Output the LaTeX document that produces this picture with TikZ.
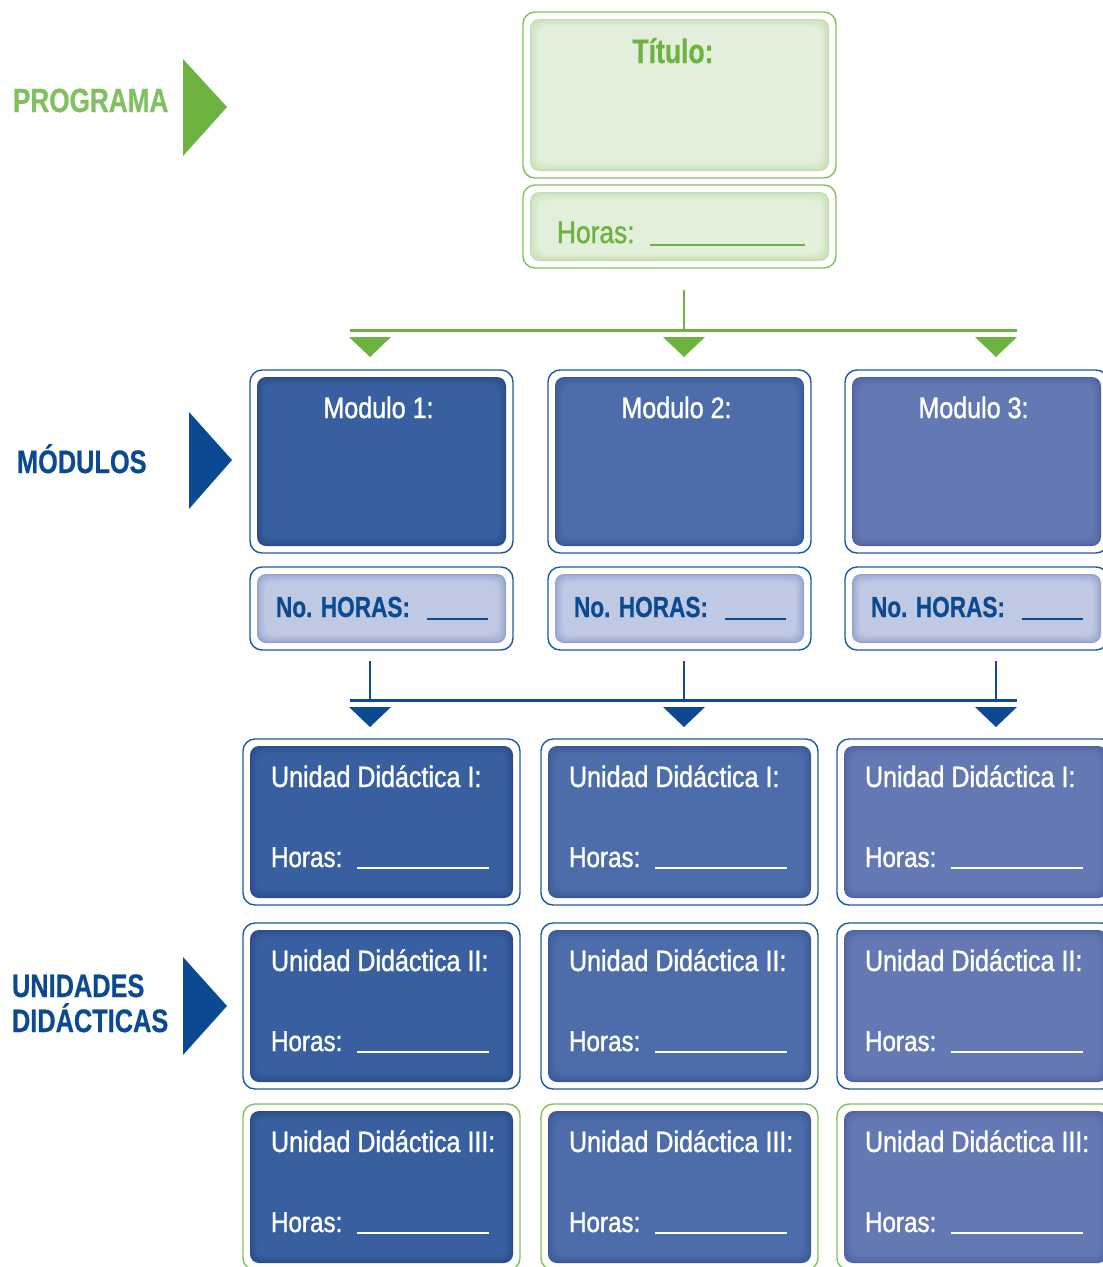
\documentclass[tikz,border=0pt]{standalone}
\usepackage{fontspec}
\setmainfont{Liberation Sans}[FakeStretch=0.85, FakeBold=1.2]
\newfontfamily\bcond{Liberation Sans}[FakeStretch=0.78, FakeBold=0.6]
\usetikzlibrary{calc}

\definecolor{grnline}{HTML}{7DC35B}
\definecolor{grnfill}{HTML}{E2EFDA}
\definecolor{grnedge}{HTML}{C3DFB0}
\definecolor{grntext}{HTML}{6DB33F}
\definecolor{grnlabel}{HTML}{80C060}
\definecolor{grntri}{HTML}{6CB33F}
\definecolor{navy}{HTML}{0B4A93}
\definecolor{navyline}{HTML}{1B5BA0}
\definecolor{colAc}{HTML}{3860A0}
\definecolor{colAe}{HTML}{2A4C88}
\definecolor{colBc}{HTML}{4C6DAA}
\definecolor{colBe}{HTML}{3A5994}
\definecolor{colCc}{HTML}{6479B3}
\definecolor{colCe}{HTML}{4E63A0}
\definecolor{hrsc}{HTML}{C0C9E3}
\definecolor{hrse}{HTML}{93A2CC}

% soft inner shading of a rounded panel, inset 7pt inside a framed node
\newcommand{\innerglow}[3]{%
  \foreach \k in {0,...,10}{%
    \pgfmathsetmacro{\ins}{7+\k*0.8}%
    \pgfmathtruncatemacro{\mixp}{100*(\k/10)^0.7}%
    \fill[#3!\mixp!#2, rounded corners=9pt]
      ($(#1.north west)+(\ins,\ins)$) rectangle ($(#1.south east)+(-\ins,-\ins)$);
  }%
}
\newcommand{\fs}[1]{\fontsize{#1}{#1}\selectfont}

\begin{document}
\begin{tikzpicture}[x=1pt,y=-1pt,
  frame/.style={draw, rounded corners=12pt, line width=1.4pt, fill=white,
    inner sep=0pt, outer sep=0pt},
  txt/.style={inner sep=0pt, outer sep=0pt, anchor=base west},
  ctxt/.style={inner sep=0pt, outer sep=0pt, anchor=base},
  gconn/.style={draw=grntri},
  bconn/.style={draw=navy},
  blank/.style={line width=2pt}]
\useasboundingbox (0,0) rectangle (1103,1267);
\clip (0,0) rectangle (1103,1267);

% ---------- section labels ----------
\node[txt, text=grnlabel] (lprog) at (13,112) {\bcond\bfseries\fs{33.5}PROGRAMA};
\fill[grntri] (183,59) -- (227,107) -- (183,156) -- cycle;
\node[txt, text=navy] (lmod) at (17,473) {\bcond\bfseries\fs{32.5}MÓDULOS};
\fill[navy] (189,412) -- (232,460) -- (189,509) -- cycle;
\node[txt, text=navy] (lud1) at (12,997) {\bcond\bfseries\fs{32.5}UNIDADES};
\node[txt, text=navy] (lud2) at (12,1032) {\bcond\bfseries\fs{32.5}DIDÁCTICAS};
\fill[navy] (183,957) -- (227,1006) -- (183,1055) -- cycle;

% ---------- programme ----------
\node[frame, draw=grnline, minimum width=313pt, minimum height=166pt] (titulo) at (679.5,95) {};
\innerglow{titulo}{grnedge}{grnfill}
\node[ctxt, text=grntext] (ttitulo) at ($(titulo.north)+(-6.5,51)$) {\bcond\bfseries\fs{34}Título:};
\node[frame, draw=grnline, minimum width=313pt, minimum height=83pt] (phoras) at (679.5,226.5) {};
\innerglow{phoras}{grnedge}{grnfill}
\node[txt, text=grntext] (tphoras) at ($(phoras.north west)+(34,58)$) {\fs{31}Horas:};
\draw[grntext, blank] ($(phoras.north west)+(127,60)$) -- ++(155,0);

% green connector
\coordinate (gtop) at ($(phoras.south)+(4.5,22)$);
\coordinate (gmid) at (684,330);
\coordinate (gl) at (350,330);
\coordinate (gr) at (1017,330);
\draw[gconn, line width=2pt] (gtop) -- (gmid);
\draw[gconn, line width=3pt] (gl) -- (gr);
\foreach \x [count=\i] in {370,684,996}{
  \coordinate (gtip\i) at (\x,357);
  \fill[grntri] ($(gtip\i)+(-21,-20)$) -- ($(gtip\i)+(21,-20)$) -- (gtip\i) -- cycle;
}

% ---------- modules ----------
\foreach \lx/\cc/\ce [count=\i] in {250/colAc/colAe, 548/colBc/colBe, 845/colCc/colCe}{
  \node[frame, draw=navyline, minimum width=263pt, minimum height=183pt] (mod\i) at (\lx+131.5,461.5) {};
  \innerglow{mod\i}{\ce}{\cc}
  \node[ctxt, text=white] (tmod\i) at ($(mod\i.north)+(-3,48)$) {\fs{29.5}Modulo \i:};
  \node[frame, draw=navyline, minimum width=263pt, minimum height=83pt] (hrs\i) at (\lx+131.5,608.5) {};
  \innerglow{hrs\i}{hrse}{hrsc}
  \node[txt, text=navy] (thrs\i) at ($(hrs\i.north west)+(26,50)$) {\bcond\bfseries\fs{29}No. HORAS:};
  \draw[navy, blank] ($(hrs\i.north west)+(177,52)$) -- ++(61,0);
}

% blue connector
\coordinate (bl) at (350,700);
\coordinate (br) at (1017,700);
\draw[bconn, line width=3pt] (bl) -- (br);
\foreach \x [count=\i] in {370,684,996}{
  \coordinate (btop\i) at (\x,661);
  \coordinate (bjn\i) at (\x,700);
  \draw[bconn, line width=2pt] (btop\i) -- (bjn\i);
  \coordinate (btip\i) at (\x,727);
  \fill[navy] ($(btip\i)+(-21,-20)$) -- ($(btip\i)+(21,-20)$) -- (btip\i) -- cycle;
}

% ---------- teaching units ----------
\foreach \lx/\cc/\ce [count=\i] in {243/colAc/colAe, 541/colBc/colBe, 837/colCc/colCe}{
  \foreach \ty/\rom/\lc [count=\j] in {739/I/navyline, 923/II/navyline, 1104/III/grnline}{
    \node[frame, draw=\lc, minimum width=277pt, minimum height=166pt] (ud\i\j) at (\lx+138.5,\ty+83) {};
    \innerglow{ud\i\j}{\ce}{\cc}
    \node[txt, text=white] (tud\i\j) at ($(ud\i\j.north west)+(28,48)$) {\fs{29.5}Unidad Didáctica \rom:};
    \node[txt, text=white] (hud\i\j) at ($(ud\i\j.north west)+(28,128)$) {\fs{28.5}Horas:};
    \draw[white, blank] ($(ud\i\j.north west)+(114,129)$) -- ++(132,0);
  }
}
\end{tikzpicture}
\end{document}
